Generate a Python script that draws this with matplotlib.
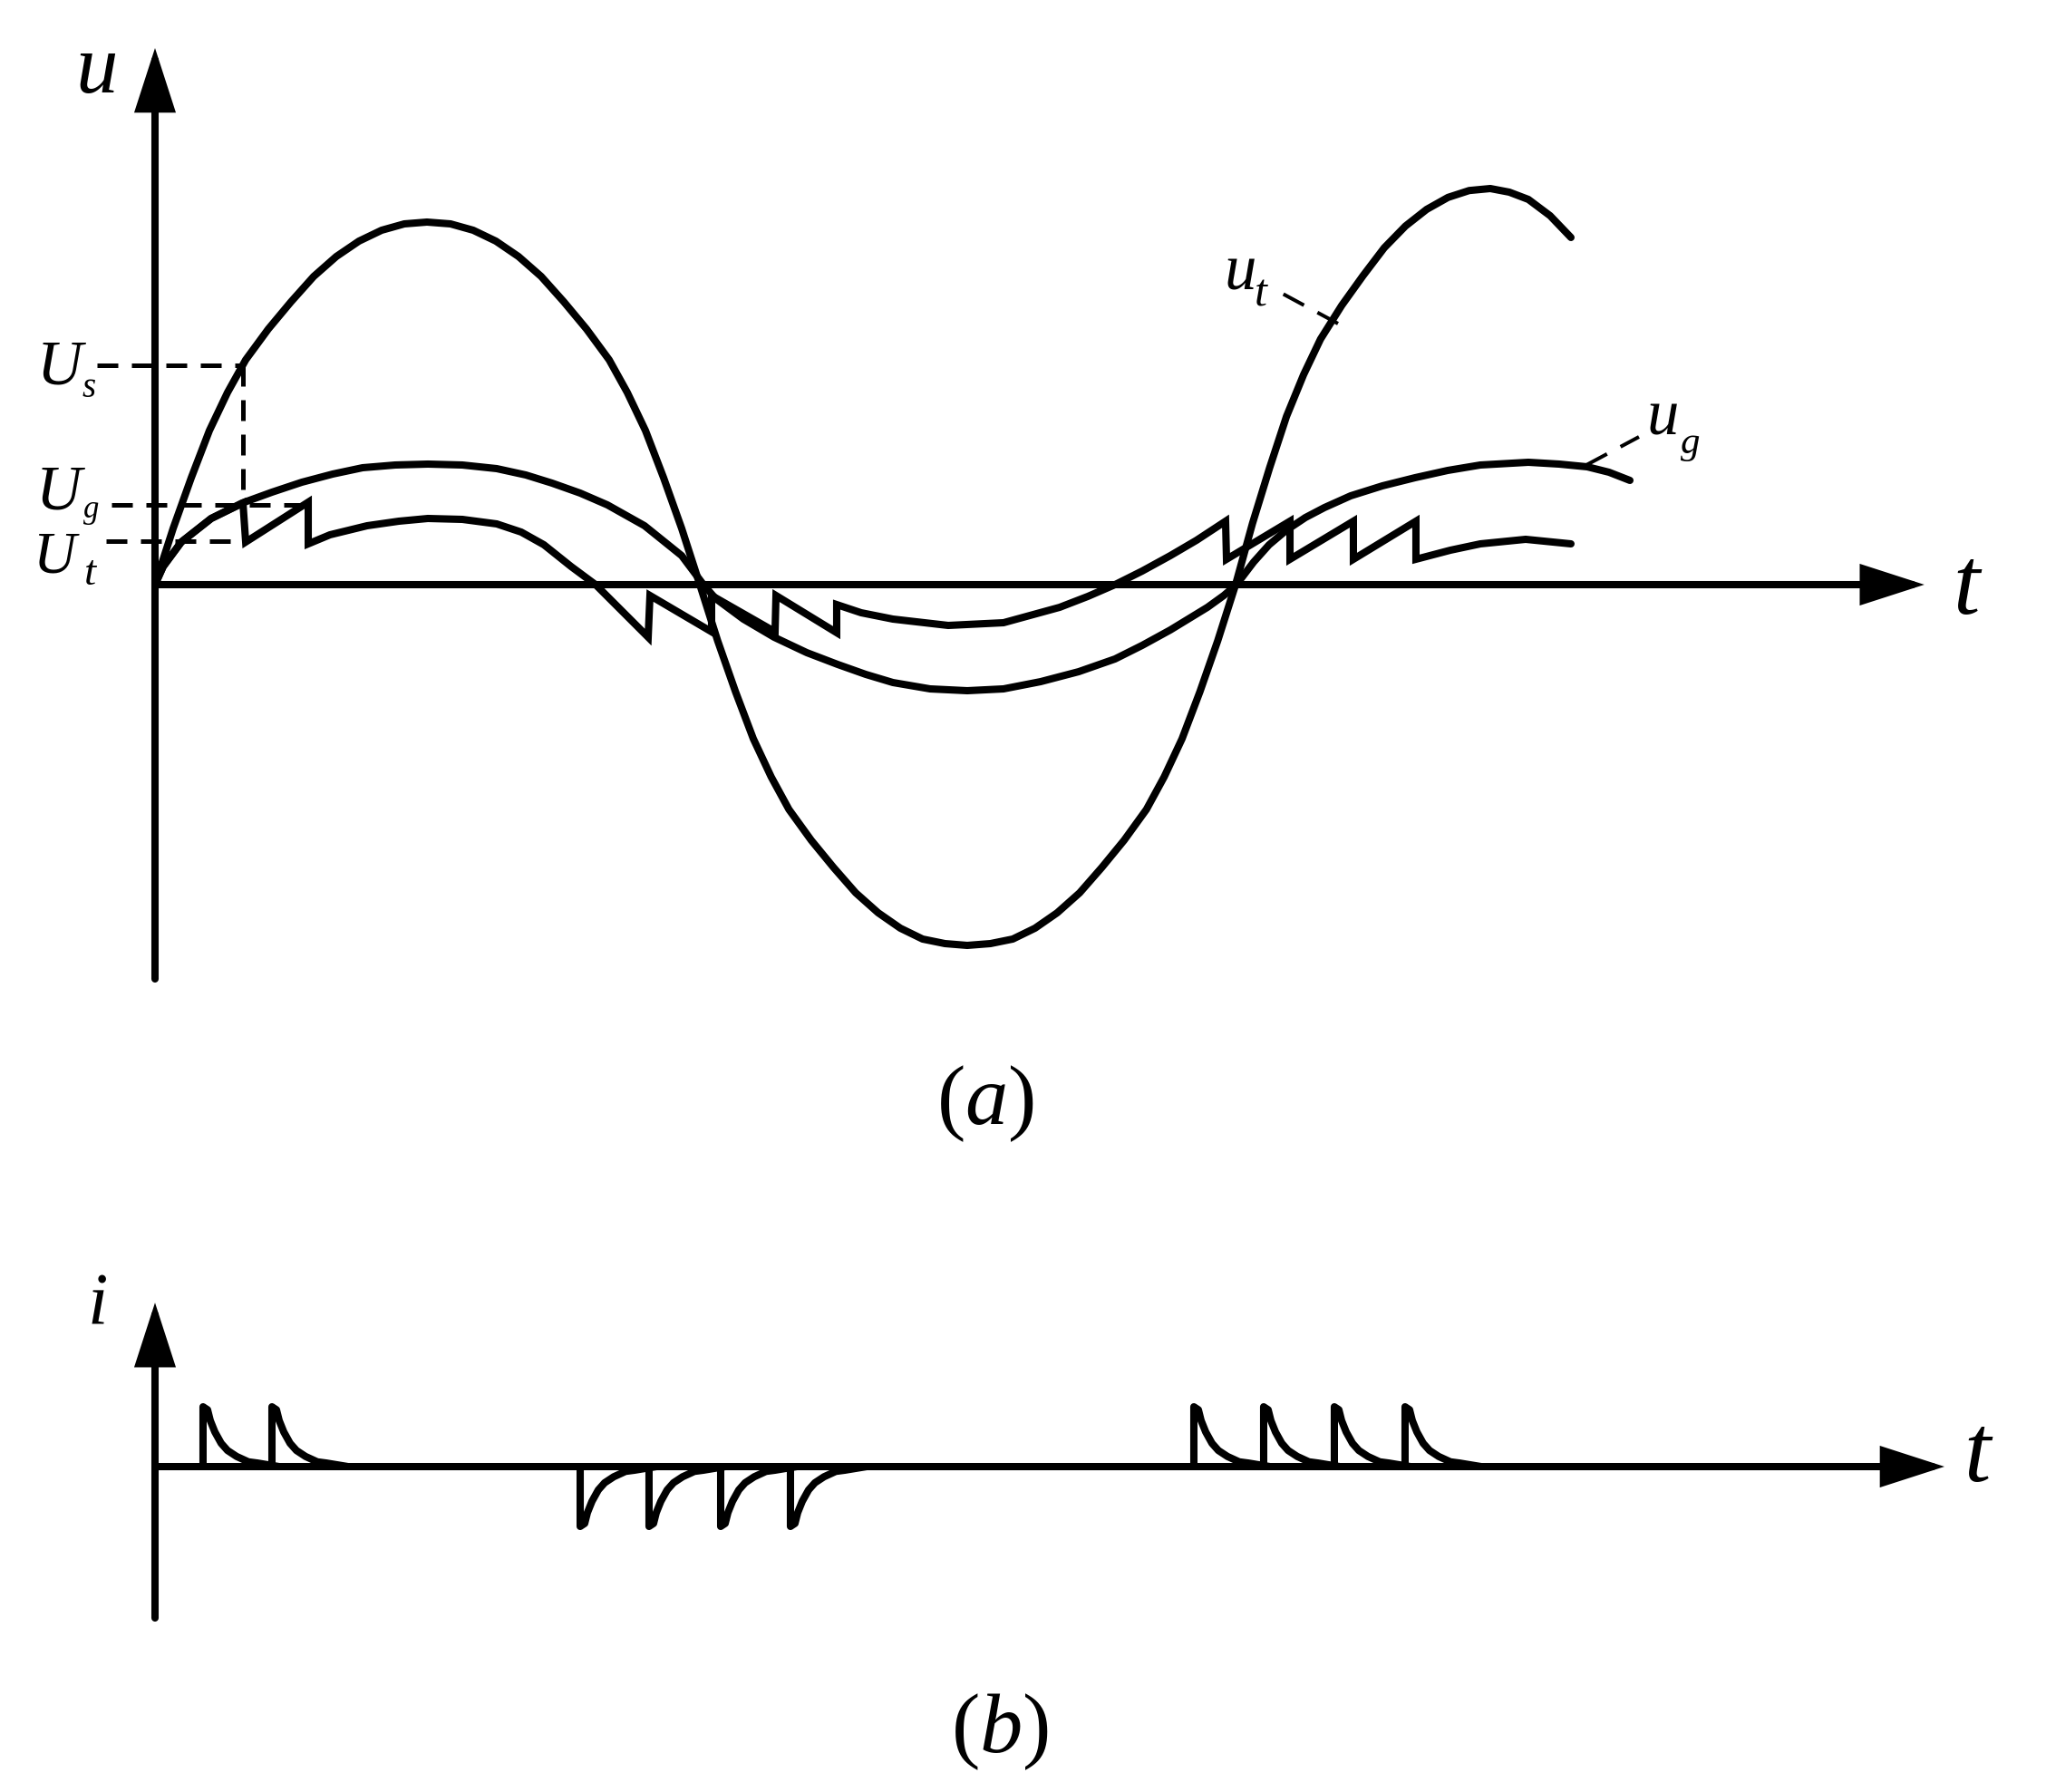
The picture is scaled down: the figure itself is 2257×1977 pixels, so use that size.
import matplotlib
matplotlib.use("Agg")
import matplotlib.pyplot as plt

plt.rcParams['mathtext.fontset'] = 'custom'
plt.rcParams['mathtext.rm'] = 'Liberation Serif'
plt.rcParams['mathtext.it'] = 'Liberation Serif:italic'

# ---------------- data ----------------
# time axis in arbitrary units (half period ~10), voltage in % of u_t first peak
UT_T = [0.0, 0.333, 0.667, 1.0, 1.333, 1.667, 2.083, 2.5, 2.917, 3.333, 3.75, 4.167, 4.583, 5.0,
        5.433, 5.85, 6.267, 6.683, 7.1, 7.517, 7.933, 8.35, 8.683, 9.017, 9.35, 9.683, 10.017,
        10.345, 10.672, 11.0, 11.328, 11.655, 12.065, 12.475, 12.883, 13.295, 13.703, 14.113,
        14.523, 14.933,
        15.36, 15.77, 16.18, 16.588, 17.0, 17.408, 17.818, 18.228, 18.555, 18.883, 19.212,
        19.538, 19.867,
        20.178, 20.492, 20.803, 21.117, 21.428, 21.818, 22.21, 22.6, 22.99, 23.38, 23.772,
        24.162, 24.55, 24.9, 25.25, 25.65, 26.033]
UT_U = [0, 15.5, 29.5, 42.5, 53, 62, 70.5, 78, 85, 90.5, 94.75, 97.75, 99.5, 100,
        99.5, 97.75, 94.75, 90.5, 85, 78, 70.5, 62, 53, 42.5, 29.5, 15.5, 0,
        -15.5, -29.5, -42.5, -53, -62, -70.5, -78, -85, -90.5, -94.75, -97.75,
        -99.0, -99.5,
        -99.0, -97.75, -94.75, -90.5, -85, -78, -70.5, -62, -53, -42.5, -29.5,
        -15.5, 0,
        16.9, 32.2, 46.4, 57.9, 67.7, 77, 85.2, 92.9, 98.9, 103.5, 106.8,
        108.7, 109.25, 108.25, 106.25, 101.75, 95.75]

UG_T = [0, 0.15, 0.483, 1.033, 1.6, 2.15, 2.7, 3.267, 3.817, 4.417, 5.017, 5.65, 6.283,
        6.817, 7.3, 7.817, 8.317, 9.0, 9.683, 10.083, 10.3, 10.817, 11.383, 11.983, 12.55,
        13.067, 13.567, 14.25, 14.933, 15.6, 16.283, 16.983, 17.65, 18.15, 18.667, 19.35,
        19.65, 19.883, 20.2, 20.483, 20.8, 21.15, 21.5, 21.983, 22.567, 23.167, 23.767, 24.367,
        25.25, 25.817, 26.333, 26.733, 27.117]
UG_U = [0, 5, 11.75, 18.25, 22.5, 25.5, 28.25, 30.5, 32.25, 33, 33.25, 33, 32,
        30.25, 28, 25.25, 22, 16.25, 8, 0, -3.75, -9.5, -14.5, -18.75, -22,
        -24.75, -27, -28.75, -29.25, -28.75, -26.75, -24, -20.5, -16.75, -12.5, -6.25,
        -3, 0, 6.25, 11.0, 15.0, 18.5, 21.25, 24.5, 27.25, 29.5, 31.5, 33,
        33.75, 33.25, 32.5, 31, 28.75]

# sawtooth voltage
UC_T = [0, 0.15, 0.483, 1.033, 1.617, 1.667, 2.817, 2.817, 3.217, 3.9, 4.483, 5.017, 5.65,
        6.283, 6.733, 7.15, 7.65, 8.1, 8.567, 9.067, 9.1, 10.233, 10.233, 11.4, 11.417,
        12.533, 12.533, 12.983, 13.567, 14.583, 15.6, 16.633, 17.15, 17.65, 18.15, 18.667,
        19.15, 19.683, 19.7, 20.867, 20.867, 22.033, 22.033, 23.183, 23.183, 23.817,
        24.367, 25.2, 26.033]
UC_U = [0, 5, 11.75, 18.25, 22.5, 11.75, 22.75, 11.25, 13.75, 16.25, 17.5, 18.25, 18,
        16.75, 14.5, 11, 5, 0, -7, -14.5, -3, -13, -3, -13, -3,
        -13.25, -5.5, -7.75, -9.5, -11.25, -10.5, -6.25, -3.25, 0, 3.75, 8,
        12.25, 17.5, 7, 17.5, 7, 17.5, 7, 17.5, 7, 9.5,
        11.25, 12.5, 11.25]

# reference levels
US_LEVEL, UG_LEVEL, UT_LEVEL = 60.5, 22.0, 12.0
US_H_T = [-1.067, 1.617]
US_V_T = 1.617
US_V_U = [60.5, 23.0]
UG_H_T = [-0.8, 2.817]
UT_H_T = [-0.9, 1.65]

# label leader lines
LEAD_UT_T = [20.7, 21.75]
LEAD_UT_U = [80.5, 72.0]
LEAD_UG_T = [26.317, 27.283]
LEAD_UG_U = [33.0, 40.75]

# current pulses (b): pulse shape and start times
PULSE_DT = [0, 0, 0.083, 0.133, 0.217, 0.333, 0.45, 0.617, 0.833, 1.0, 1.4]
PULSE_I = [0, 100, 95, 77, 58, 39, 27, 17, 8, 6, 0]
POS_STARTS = [0.883, 2.15, 19.1, 20.383, 21.683, 22.983]
NEG_STARTS = [7.817, 9.083, 10.4, 11.683]

# ---------------- figure ----------------
W, H, DPI = 2257, 1977, 100
fig = plt.figure(figsize=(W / DPI, H / DPI), dpi=DPI)
fig.patch.set_facecolor('white')

ax = fig.add_axes([0, 0, 1, 1], label='top')
ax.set_xlim(-2.85, 34.767)
ax.set_ylim(-333, 161.25)
ax.set_axis_off()

axb = fig.add_axes([0, 0, 1, 1], label='bottom')
axb.set_xlim(-2.85, 34.767)
axb.set_ylim(-543.9, 2451.5)
axb.set_axis_off()
axb.patch.set_alpha(0)

LW = 5.8
SERIF = ['Liberation Serif', 'DejaVu Serif']
ARROW = dict(arrowstyle='-|>,head_length=3.9,head_width=1.26', mutation_scale=10,
             lw=LW, color='k', shrinkA=0, shrinkB=0, joinstyle='miter')


def axis_arrow(a, start, tip):
    a.annotate('', xy=tip, xytext=start, arrowprops=ARROW)


def label(a, x, y, s, size, italic=True):
    a.text(x, y, s, fontsize=size, family=SERIF, style='italic' if italic else 'normal',
           ha='center', va='baseline', color='k')


# top panel axes
axis_arrow(ax, (0, -108.75), (0, 148))
axis_arrow(ax, (0, 0), (32.53, 0))

curve_kw = dict(color='k', lw=LW, solid_capstyle='round', solid_joinstyle='round')
ax.plot(UT_T, UT_U, **curve_kw)
ax.plot(UG_T, UG_U, **curve_kw)
ax.plot(UC_T, UC_U, color='k', lw=LW, solid_capstyle='round', solid_joinstyle='miter')

dash_kw = dict(color='k', lw=3.6, linestyle=(0, (4.6, 3.0)), dash_capstyle='butt')
ax.plot(US_H_T, [US_LEVEL, US_LEVEL], **dash_kw)
ax.plot([US_V_T, US_V_T], US_V_U, **dash_kw)
ax.plot(UG_H_T, [UG_LEVEL, UG_LEVEL], **dash_kw)
ax.plot(UT_H_T, [UT_LEVEL, UT_LEVEL], **dash_kw)

lead_kw = dict(color='k', lw=2.9, linestyle=(0, (6.4, 4.2)), dash_capstyle='butt')
ax.plot(LEAD_UT_T[::-1], LEAD_UT_U[::-1], **lead_kw)
ax.plot(LEAD_UG_T, LEAD_UG_U, **lead_kw)

# labels top
label(ax, -1.08, 135.75, 'u', 67)
label(ax, 33.3, -8, 't', 76)
label(ax, -1.75, 55.5, 'U', 50)
label(ax, -1.22, 51.75, 's', 28)
label(ax, -1.77, 20.75, 'U', 50)
label(ax, -1.17, 18.5, 'g', 25)
label(ax, -1.85, 3.25, 'U', 47)
label(ax, -1.2, 0.0, 't', 34)
label(ax, 19.95, 81.25, 'u', 51)
label(ax, 20.33, 77.0, 't', 36)
label(ax, 27.72, 41.25, 'u', 51)
label(ax, 28.23, 36.25, 'g', 31)
ax.text(15.27, -148.75, r'$(a)$', fontsize=68, ha='center', va='baseline')
ax.text(15.53, -322.0, r'$(b)$', fontsize=68, ha='center', va='baseline')

# bottom panel
axis_arrow(axb, (0, -253), (0, 274))
axis_arrow(axb, (0, 0), (32.9, 0))
for s in POS_STARTS:
    axb.plot([s + d for d in PULSE_DT], PULSE_I, color='k', lw=LW,
             solid_capstyle='butt', solid_joinstyle='round')
for s in NEG_STARTS:
    axb.plot([s + d for d in PULSE_DT], [-v for v in PULSE_I], color='k', lw=LW,
             solid_capstyle='butt', solid_joinstyle='round')
label(axb, -1.05, 238, 'i', 58)
label(axb, 33.5, -24, 't', 76)

fig.savefig('out.png', dpi=DPI, facecolor='white')
